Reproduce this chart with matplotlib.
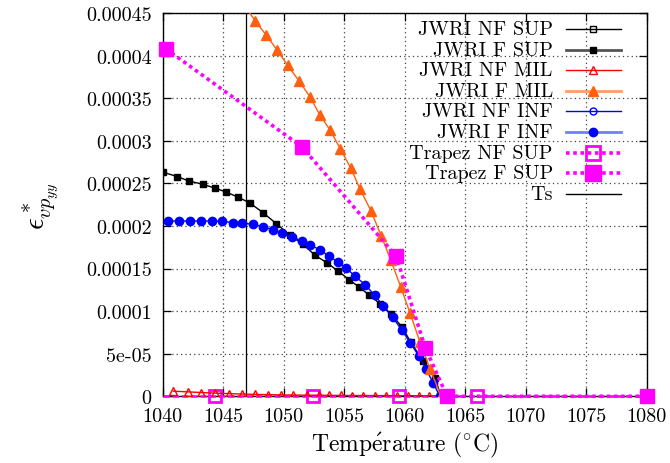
import matplotlib
matplotlib.use("Agg")
import matplotlib.pyplot as plt
from matplotlib.lines import Line2D

plt.rcParams["font.family"] = ["cmr10", "DejaVu Serif"]
plt.rcParams["mathtext.fontset"] = "cm"
plt.rcParams["axes.formatter.use_mathtext"] = True

# --- data -------------------------------------------------------------
jwri_nf_sup_t, jwri_nf_sup_v = [], []
jwri_nf_inf_t, jwri_nf_inf_v = [], []

jwri_f_sup_t = [1040.05, 1041.2, 1042.17, 1043.3, 1044.3, 1045.2, 1046.2, 1047.2,
                1048.3, 1049.4, 1050.5, 1051.6, 1052.6, 1053.6, 1054.5, 1055.4,
                1056.2, 1057.05, 1058.0, 1058.85, 1059.8, 1060.5, 1061.5, 1062.5, 1063.0]
jwri_f_sup_v = [2.63e-4, 2.58e-4, 2.527e-4, 2.49e-4, 2.445e-4, 2.40e-4, 2.34e-4, 2.27e-4,
                2.155e-4, 2.026e-4, 1.893e-4, 1.784e-4, 1.655e-4, 1.565e-4, 1.47e-4, 1.37e-4,
                1.286e-4, 1.19e-4, 1.083e-4, 0.97e-4, 0.81e-4, 0.634e-4, 0.42e-4, 0.22e-4, 0.0]

jwri_nf_mil_t = [1040.88, 1042.07, 1043.17, 1044.33, 1045.49, 1046.58, 1047.63, 1048.68,
                 1049.75, 1050.79, 1051.9, 1052.9, 1053.75, 1054.71, 1055.67, 1056.58,
                 1057.55, 1058.43, 1059.39, 1060.3, 1061.18, 1062.03, 1062.78]
jwri_nf_mil_v = [6.0e-6, 5.2e-6, 4.4e-6, 3.7e-6, 3.1e-6, 2.6e-6, 2.2e-6, 1.9e-6,
                 1.6e-6, 1.4e-6, 1.3e-6, 1.2e-6, 1.1e-6, 1.0e-6, 0.9e-6, 0.9e-6,
                 0.8e-6, 0.8e-6, 0.7e-6, 0.7e-6, 0.6e-6, 0.5e-6, 0.3e-6]

jwri_f_mil_t = [1046.8, 1047.65, 1048.56, 1049.45, 1050.33, 1051.26, 1052.17, 1052.98,
                1053.85, 1054.68, 1055.54, 1056.33, 1057.22, 1058.05, 1058.85, 1059.67,
                1060.44, 1061.27, 1062.1, 1063.0]
jwri_f_mil_v = [4.58e-4, 4.408e-4, 4.24e-4, 4.065e-4, 3.885e-4, 3.704e-4, 3.516e-4, 3.305e-4,
                3.122e-4, 2.906e-4, 2.68e-4, 2.428e-4, 2.175e-4, 1.887e-4, 1.6e-4, 1.286e-4,
                0.978e-4, 0.634e-4, 0.32e-4, 0.0]

jwri_f_inf_t = [1040.4, 1041.37, 1042.26, 1043.17, 1044.07, 1044.88, 1045.79, 1046.58,
                1047.49, 1048.3, 1049.1, 1049.86, 1050.66, 1051.49, 1052.2, 1052.98,
                1053.72, 1054.46, 1055.18, 1055.9, 1056.73, 1057.53, 1058.24, 1059.02,
                1059.76, 1060.45, 1061.15, 1061.76, 1062.37, 1062.9]
jwri_f_inf_v = [2.058e-4, 2.058e-4, 2.058e-4, 2.058e-4, 2.058e-4, 2.054e-4, 2.04e-4, 2.034e-4,
                2.018e-4, 1.99e-4, 1.955e-4, 1.913e-4, 1.873e-4, 1.823e-4, 1.776e-4, 1.72e-4,
                1.647e-4, 1.58e-4, 1.504e-4, 1.41e-4, 1.31e-4, 1.185e-4, 1.06e-4, 0.925e-4,
                0.777e-4, 0.63e-4, 0.477e-4, 0.32e-4, 0.153e-4, 0.0]

trapez_nf_sup_t = [1040.0, 1044.3, 1052.4, 1059.5, 1066.0, 1080.0]
trapez_nf_sup_v = [0.0, 0.0, 0.0, 0.0, 0.0, 0.0]

trapez_f_sup_t = [1040.25, 1051.5, 1059.3, 1061.7, 1063.5, 1080.0]
trapez_f_sup_v = [4.08e-4, 2.93e-4, 1.645e-4, 0.57e-4, 0.0, 0.0]

ts = 1046.9

x_ticks = [1040, 1045, 1050, 1055, 1060, 1065, 1070, 1075, 1080]
y_ticks = [0, 5e-5, 1e-4, 1.5e-4, 2e-4, 2.5e-4, 3e-4, 3.5e-4, 4e-4, 4.5e-4]
y_tick_labels = ["0", "5e-05", "0.0001", "0.00015", "0.0002", "0.00025",
                 "0.0003", "0.00035", "0.0004", "0.00045"]

labels = ["JWRI NF SUP", "JWRI F SUP", "JWRI NF MIL", "JWRI F MIL",
          "JWRI NF INF", "JWRI F INF", "Trapez NF SUP", "Trapez F SUP", "Ts"]

# --- figure -----------------------------------------------------------
fig = plt.figure(figsize=(6.7, 4.64), dpi=100)
ax = fig.add_axes([0.2428, 0.1438, 0.7224, 0.826])

ax.set_xlim(1040, 1080)
ax.set_ylim(0, 4.5e-4)

ax.grid(True, color="#444444", linestyle=(0, (1, 2.5)), linewidth=0.9)
ax.set_axisbelow(True)

ORANGE = "#ff6010"
MAGENTA = "#ff00ff"

ax.axvline(ts, color="black", linewidth=0.9, zorder=2)

ax.plot(trapez_nf_sup_t, trapez_nf_sup_v, color=MAGENTA, linestyle=(0, (2.5, 1.2)),
        linewidth=1.8, marker="s", markersize=9, markerfacecolor="none",
        markeredgewidth=2, markevery=[1, 2, 3, 4, 5], clip_on=False, zorder=3)
ax.plot(jwri_nf_mil_t, jwri_nf_mil_v, color="red", linewidth=1.0, marker="^",
        markersize=5.5, markerfacecolor="none", markeredgewidth=1.0, zorder=4)
ax.plot(jwri_nf_sup_t, jwri_nf_sup_v, color="black", linewidth=1.0, marker="s",
        markersize=5, markerfacecolor="none")
ax.plot(jwri_nf_inf_t, jwri_nf_inf_v, color="blue", linewidth=1.0, marker="o",
        markersize=5, markerfacecolor="none")
ax.plot(jwri_f_sup_t, jwri_f_sup_v, color="black", linewidth=1.0, marker="s",
        markersize=4.8, zorder=5)
ax.plot(jwri_f_inf_t, jwri_f_inf_v, color="blue", linewidth=1.0, marker="o",
        markersize=6, zorder=6)
ax.plot(jwri_f_mil_t, jwri_f_mil_v, color=ORANGE, linewidth=1.0, marker="^",
        markersize=6.5, zorder=6)
ax.plot(trapez_f_sup_t, trapez_f_sup_v, color=MAGENTA, linestyle=(0, (1, 1)),
        linewidth=2.6, marker="s", markersize=9.5, clip_on=False, zorder=7)

# ticks
ax.set_xticks(x_ticks)
ax.set_xticklabels([str(v) for v in x_ticks])
ax.set_yticks(y_ticks)
ax.set_yticklabels(y_tick_labels)
ax.tick_params(direction="in", length=6, width=0.9, top=True, right=True,
               labelsize=14.5, pad=8)
for s in ax.spines.values():
    s.set_linewidth(1.0)

ax.set_xlabel(r"Temp$\mathrm{\acute{e}}$rature ($^{\circ}$C)", fontsize=17, labelpad=3)
ax.set_ylabel(r"$\epsilon^*_{vp_{yy}}$", fontsize=21, labelpad=18)

# key, text right-aligned with sample on the right
handles = [
    dict(color="black", lw=1.0, marker="s", mfc="none", ms=5, ls="-"),
    dict(color="#555555", lw=2.0, marker="s", mfc="black", mec="black", ms=5, ls="-"),
    dict(color="red", lw=1.0, marker="^", mfc="none", ms=6, ls="-"),
    dict(color="#ff9c70", lw=2.0, marker="^", mfc=ORANGE, mec=ORANGE, ms=6.5, ls="-"),
    dict(color="blue", lw=1.0, marker="o", mfc="none", ms=5, ls="-"),
    dict(color="#7080ff", lw=2.0, marker="o", mfc="blue", mec="blue", ms=6, ls="-"),
    dict(color=MAGENTA, lw=2.6, marker="s", mfc="none", mew=2, ms=10, ls=(0, (1, 1))),
    dict(color=MAGENTA, lw=2.6, marker="s", mfc=MAGENTA, ms=11, ls=(0, (1, 1))),
    dict(color="black", lw=1.0, ls="-"),
]
row0, step = 0.958, 0.0537
tx, lx0, lx1 = 0.806, 0.833, 0.947
for i, (lab, h) in enumerate(zip(labels, handles)):
    yy = row0 - i * step
    ax.text(tx, yy, lab, transform=ax.transAxes, ha="right", va="center",
            fontsize=14.5, zorder=10)
    mk = h.pop("marker", None)
    ms = h.pop("ms", None)
    mfc = h.pop("mfc", None)
    mec = h.pop("mec", None) or h["color"]
    mew = h.pop("mew", 1.0)
    ax.add_line(Line2D([lx0, lx1], [yy, yy], transform=ax.transAxes,
                       color=h["color"], linewidth=h["lw"], linestyle=h["ls"], zorder=10))
    if mk is not None:
        ax.add_line(Line2D([(lx0 + lx1) / 2], [yy], transform=ax.transAxes,
                           marker=mk, markersize=ms, markerfacecolor=mfc,
                           markeredgecolor=mec, markeredgewidth=mew,
                           linestyle="none", zorder=11))

fig.savefig("out.png", dpi=100)
